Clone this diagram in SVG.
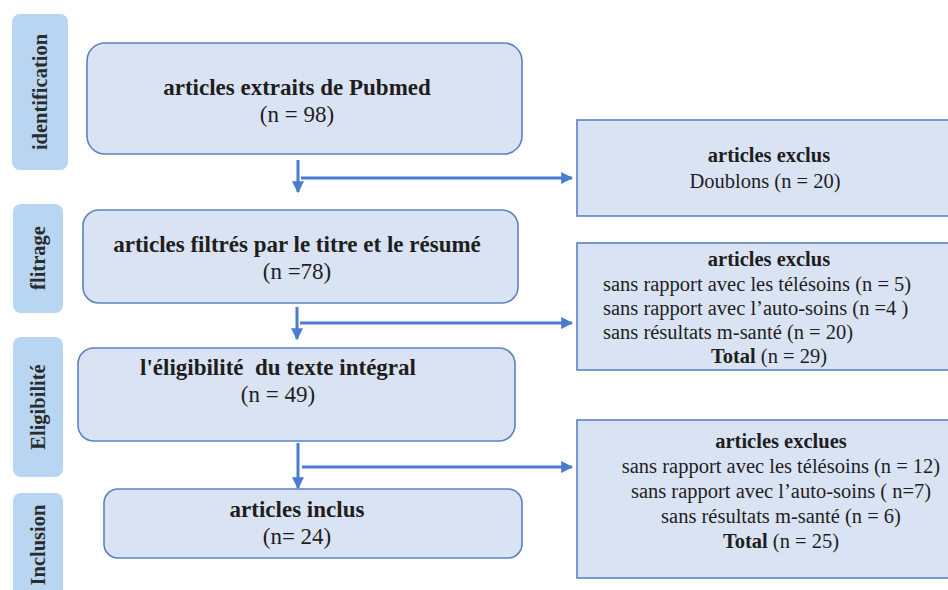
<svg xmlns="http://www.w3.org/2000/svg" width="948" height="590" viewBox="0 0 948 590">
<defs>
<marker id="ah" viewBox="0 0 10 10" refX="9" refY="5" markerWidth="4" markerHeight="4" orient="auto" markerUnits="strokeWidth">
<path d="M0,0 L10,5 L0,10 z" fill="#4a7dd0"/>
</marker>
<style>
.side{fill:#b8d6f1;}
.sidet{font-family:"Liberation Serif","Times New Roman",serif;font-weight:bold;font-size:20.5px;fill:#2b2b2b;text-anchor:middle;}
.box{fill:#dae3f3;stroke:#5b82c0;stroke-width:1.6;}
.t{font-family:"Liberation Serif","Times New Roman",serif;font-size:23px;fill:#1e1e1e;text-anchor:middle;}
.b{font-weight:bold;}
.s{font-family:"Liberation Serif","Times New Roman",serif;font-size:20.5px;fill:#1e1e1e;}
.c{text-anchor:middle;}
.arr{fill:none;stroke:#4a7dd0;stroke-width:3;}
</style>
</defs>
<rect width="948" height="590" fill="#ffffff"/>

<g id="side-identification"><rect class="side" x="12" y="14" width="56" height="156" rx="8"/><text class="sidet" transform="translate(47 92) rotate(-90)">identification</text></g>
<g id="side-filtrage"><rect class="side" x="13" y="204" width="50" height="109" rx="8"/><text class="sidet" transform="translate(45 258) rotate(-90)">flitrage</text></g>
<g id="side-eligibilite"><rect class="side" x="13" y="337" width="50" height="140" rx="8"/><text class="sidet" transform="translate(45 407) rotate(-90)">Eligibilité</text></g>
<g id="side-inclusion"><rect class="side" x="13" y="493" width="50" height="110" rx="8"/><text class="sidet" transform="translate(45 545) rotate(-90)">Inclusion</text></g>

<g id="n1"><rect class="box" x="87" y="43" width="435" height="111" rx="18"/><text class="t b" x="297" y="95">articles extraits de Pubmed</text><text class="t" x="297" y="122">(n = 98)</text></g>
<g id="n2"><rect class="box" x="83" y="210" width="435" height="93" rx="16"/><text class="t b" x="297" y="252">articles filtrés par le titre et le résumé</text><text class="t" x="297" y="279">(n =78)</text></g>
<g id="n3"><rect class="box" x="78" y="348" width="437" height="93" rx="16"/><text class="t b" x="278" y="375" xml:space="preserve">l'éligibilité  du texte intégral</text><text class="t" x="278" y="402">(n = 49)</text></g>
<g id="n4"><rect class="box" x="104" y="489" width="418" height="69" rx="14"/><text class="t b" x="297" y="517">articles inclus</text><text class="t" x="297" y="544">(n= 24)</text></g>

<g id="r1"><rect class="box" x="577" y="120" width="372" height="96"/><text class="s b c" x="769" y="162">articles exclus</text><text class="s c" x="765" y="188">Doublons (n = 20)</text></g>
<g id="r2"><rect class="box" x="577" y="243" width="372" height="127"/><text class="s b c" x="769" y="266">articles exclus</text><text class="s" x="603" y="291">sans rapport avec les télésoins (n = 5)</text><text class="s" x="603" y="315">sans rapport avec l’auto-soins (n =4 )</text><text class="s" x="603" y="339">sans résultats m-santé (n = 20)</text><text class="s c" x="769" y="363"><tspan class="b">Total</tspan> (n = 29)</text></g>
<g id="r3"><rect class="box" x="577" y="420" width="372" height="158"/><text class="s b c" x="781" y="448">articles exclues</text><text class="s c" x="781" y="473">sans rapport avec les télésoins (n = 12)</text><text class="s c" x="781" y="498">sans rapport avec l’auto-soins ( n=7)</text><text class="s c" x="781" y="523">sans résultats m-santé (n = 6)</text><text class="s c" x="781" y="548"><tspan class="b">Total</tspan> (n = 25)</text></g>

<g id="connectors">
<path class="arr" d="M298,160 V192" marker-end="url(#ah)"/>
<path class="arr" d="M301,178 H572" marker-end="url(#ah)"/>
<path class="arr" d="M297,307 V339" marker-end="url(#ah)"/>
<path class="arr" d="M300,323 H572" marker-end="url(#ah)"/>
<path class="arr" d="M298,443 V488" marker-end="url(#ah)"/>
<path class="arr" d="M302,467 H572" marker-end="url(#ah)"/>
</g>
</svg>
